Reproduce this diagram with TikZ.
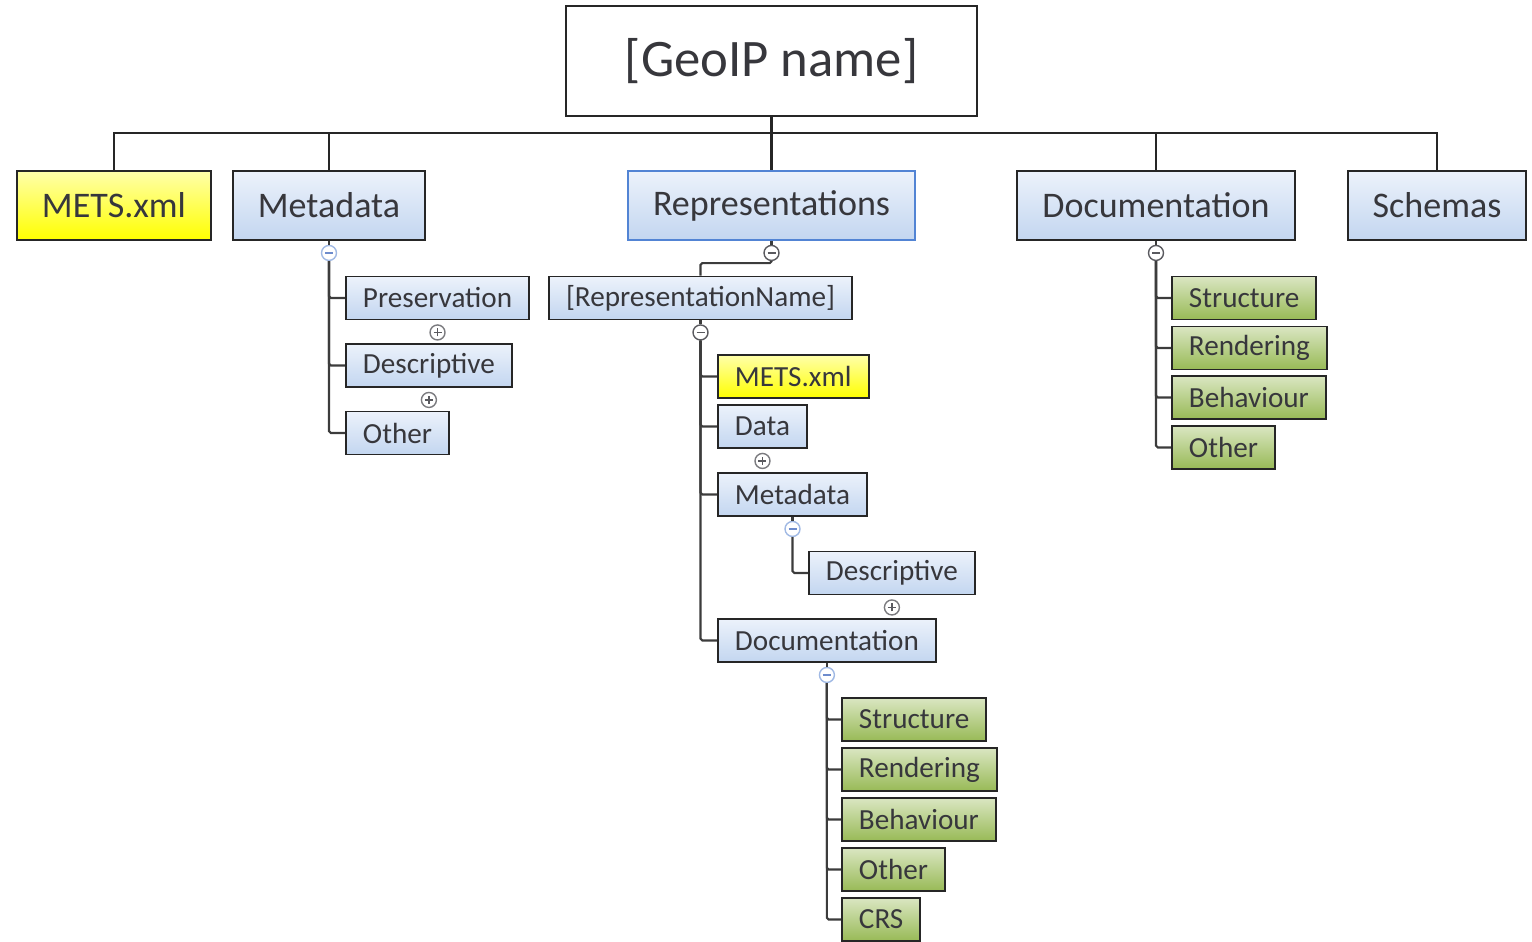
\documentclass[tikz,border=0pt]{standalone}
\usepackage{fontspec}
\setmainfont{Carlito}
\usetikzlibrary{calc}
\definecolor{boxline}{RGB}{38,38,38}
\definecolor{boxtext}{RGB}{55,55,60}
\definecolor{linegrey}{RGB}{60,60,60}
\definecolor{bluetop}{RGB}{236,242,251}
\definecolor{bluebot}{RGB}{195,214,240}
\definecolor{blueedge}{RGB}{82,132,212}
\definecolor{yellowtop}{RGB}{255,255,170}
\definecolor{yellowbot}{RGB}{255,255,0}
\definecolor{greentop}{RGB}{218,230,194}
\definecolor{greenbot}{RGB}{152,186,86}
\definecolor{togdark}{RGB}{90,90,95}
\definecolor{toglight}{RGB}{160,185,228}
\definecolor{togminus}{RGB}{110,140,205}
\tikzset{
  box/.style={
    draw=boxline,
    line width=1.1pt,
    text=boxtext,
    inner ysep=0pt
  },
  fill-blue/.style={top color=bluetop, bottom color=bluebot},
  fill-yellow/.style={top color=yellowtop, bottom color=yellowbot},
  fill-green/.style={top color=greentop, bottom color=greenbot},
  box-root/.style={box, fill=white, minimum width=8.22cm, minimum height=2.2cm,
    font=\fontsize{30}{36}\selectfont},
  box-main/.style={box, fill-blue, minimum height=1.38cm, inner xsep=0.5cm,
    font=\fontsize{20.5}{24}\selectfont},
  box-sub/.style={box, fill-blue, anchor=west, minimum height=0.86cm, inner xsep=0.34cm,
    font=\fontsize{16.6}{19}\selectfont},
  link/.style={draw=linegrey, line width=1.2pt, rounded corners=1pt},
  bus/.style={draw=boxline, line width=1.2pt},
  tog/.style={circle, fill=white, line width=0.8pt, minimum size=0.3cm, inner sep=0pt},
  tog-dark/.style={tog, draw=togdark,
    path picture={\draw[togdark, line width=0.8pt]
      ([xshift=-0.08cm]path picture bounding box.center) -- ([xshift=0.08cm]path picture bounding box.center);}},
  tog-light/.style={tog, draw=toglight,
    path picture={\draw[togminus, line width=0.8pt]
      ([xshift=-0.08cm]path picture bounding box.center) -- ([xshift=0.08cm]path picture bounding box.center);}},
  tog-plus/.style={tog, draw=togdark!80,
    path picture={\draw[togdark, line width=0.8pt]
      ([xshift=-0.08cm]path picture bounding box.center) -- ([xshift=0.08cm]path picture bounding box.center)
      ([yshift=-0.08cm]path picture bounding box.center) -- ([yshift=0.08cm]path picture bounding box.center);}}
}

\begin{document}
\begin{tikzpicture}[x=0.02cm,y=-0.02cm]
  \useasboundingbox (0,0) rectangle (1532,942);
  % root and first level
  \node[box-root] (root) at (771.5,61) {[GeoIP name]};
  \node[box-main, fill-yellow] (mets) at (114,205.5) {METS.xml};
  \node[box-main] (meta) at (329,205.5) {Metadata};
  \node[box-main, draw=blueedge] (reps) at (771.5,205.5) {Representations};
  \node[box-main] (docs) at (1156,205.5) {Documentation};
  \node[box-main] (schemas) at (1437,205.5) {Schemas};
  \coordinate (bus) at (771.5,133);
  \draw[bus] (root.south) -- (reps.north);
  \draw[bus] (mets.north) |- (bus) -| (schemas.north);
  \foreach \n in {meta,docs}
    \draw[bus] (\n.north) -- (\n.north |- bus);

  % metadata
  \node[tog-light] (metaTog) at ([yshift=-0.24cm]meta.south) {};
  \node[box-sub] (mPres) at (345,298) {Preservation};
  \node[box-sub] (mDesc) at (345,365.5) {Descriptive};
  \node[box-sub] (mOth) at (345,433) {Other};
  \node[tog-plus] (mPresTog) at ([yshift=-0.24cm]mPres.south) {};
  \node[tog-plus] (mDescTog) at ([yshift=-0.24cm]mDesc.south) {};
  \draw[link] (meta.south) -- (metaTog.north);
  \foreach \c in {mPres,mDesc,mOth}
    \draw[link] (metaTog.south) |- (\c.west);

  % representations
  \node[tog-dark] (repsTog) at ([yshift=-0.24cm]reps.south) {};
  \node[box-sub, anchor=center] (rName) at (700.5,298) {[RepresentationName]};
  \node[tog-dark] (rNameTog) at ([yshift=-0.24cm]rName.south) {};
  \node[box-sub, fill-yellow] (rMets) at (717,376.5) {METS.xml};
  \node[box-sub] (rData) at (717,426.5) {Data};
  \node[tog-plus] (rDataTog) at ([yshift=-0.24cm]rData.south) {};
  \node[box-sub] (rMeta) at (717,494.5) {Metadata};
  \node[tog-light] (rMetaTog) at ([yshift=-0.24cm]rMeta.south) {};
  \node[box-sub] (rDesc) at (808,573) {Descriptive};
  \node[tog-plus] (rDescTog) at ([yshift=-0.24cm]rDesc.south) {};
  \node[box-sub] (rDocs) at (717,640.5) {Documentation};
  \node[tog-light] (rDocsTog) at ([yshift=-0.24cm]rDocs.south) {};
  \node[box-sub, fill-green] (rStr) at (841,719.5) {Structure};
  \node[box-sub, fill-green] (rRen) at (841,769.5) {Rendering};
  \node[box-sub, fill-green] (rBeh) at (841,819.5) {Behaviour};
  \node[box-sub, fill-green] (rOth) at (841,869.5) {Other};
  \node[box-sub, fill-green] (rCRS) at (841,919.5) {CRS};
  \draw[link] (reps.south) -- (repsTog.north);
  \draw[link] (repsTog.south) -- ++(0,2) -| (rName.north);
  \draw[link] (rName.south) -- (rNameTog.north);
  \foreach \c in {rMets,rData,rMeta,rDocs}
    \draw[link] (rNameTog.south) |- (\c.west);
  \draw[link] (rMeta.south) -- (rMetaTog.north);
  \draw[link] (rMetaTog.south) |- (rDesc.west);
  \draw[link] (rDocs.south) -- (rDocsTog.north);
  \foreach \c in {rStr,rRen,rBeh,rOth,rCRS}
    \draw[link] (rDocsTog.south) |- (\c.west);

  % documentation
  \node[tog-dark] (docsTog) at ([yshift=-0.24cm]docs.south) {};
  \node[box-sub, fill-green] (dStr) at (1171,298) {Structure};
  \node[box-sub, fill-green] (dRen) at (1171,348) {Rendering};
  \node[box-sub, fill-green] (dBeh) at (1171,397.5) {Behaviour};
  \node[box-sub, fill-green] (dOth) at (1171,447.5) {Other};
  \draw[link] (docs.south) -- (docsTog.north);
  \foreach \c in {dStr,dRen,dBeh,dOth}
    \draw[link] (docsTog.south) |- (\c.west);
\end{tikzpicture}
\end{document}
